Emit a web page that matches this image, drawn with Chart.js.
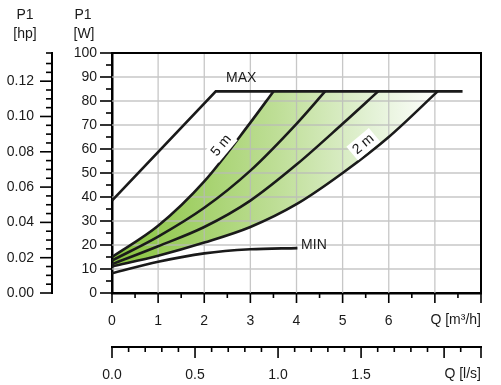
<!DOCTYPE html>
<html>
<head>
<meta charset="utf-8">
<script src="https://cdn.jsdelivr.net/npm/chart.js@4.4.1/dist/chart.umd.min.js"></script>
<style>
  html, body { margin: 0; padding: 0; background: #fff; }
</style>
</head>
<body>
<canvas id="chart" width="501" height="385"></canvas>
<script>
// pump curves: Q in m3/h, P1 in W
const q5m = [0, 1, 2, 3, 3.5];
const p5m = [15, 28, 46.5, 71, 84];
const q4m = [0, 1, 2, 3, 4, 4.62];
const p4m = [13.5, 23.5, 35.5, 51, 70.5, 84];
const q3m = [0, 1, 2, 3, 4, 5, 5.77];
const p3m = [12, 19.5, 27.5, 38.5, 53.5, 70.5, 84];
const q2m = [0, 1, 2, 3, 4, 5, 6, 7.06];
const p2m = [11, 15.5, 21, 27.5, 37, 50, 65, 84];
const qMin = [0, 1, 2, 3, 4.02];
const pMin = [8.2, 13, 16.5, 18.2, 18.7];
const qMax = [0, 2.25, 7.6];
const pMax = [38.5, 84, 84];

// axis ranges
const Q_MAX = 8;          // m3/h
const P_MAX = 100;        // W
const W_PER_HP = 735.5;
const M3H_PER_LS = 3.6;

const ink = '#1a1a1a';
const gridGray = 'rgba(185,185,185,0.8)';
const font = { family: '"Liberation Sans", Arial, sans-serif', size: 14 };

Chart.defaults.font = font;
Chart.defaults.color = ink;

// text labels on the plot (data coordinates)
const notes = [
  { text: 'MAX', q: 2.8, p: 89.4, angle: 0, box: false, align: 'center' },
  { text: 'MIN', q: 4.1, p: 20, angle: 0, box: false, align: 'left' },
  { text: '5 m', q: 2.37, p: 61.4, angle: -50, box: true, align: 'center' },
  { text: '2 m', q: 5.45, p: 62, angle: -40, box: true, align: 'center' },
];

function isStep(v, step) {
  const r = v / step;
  return Math.abs(r - Math.round(r)) < 1e-6;
}

function pts(qs, ps) {
  return qs.map((q, i) => ({ x: q, y: ps[i] }));
}

function curve(label, qs, ps, extra) {
  return Object.assign({
    label: label,
    data: pts(qs, ps),
    borderColor: ink,
    borderWidth: 2.6,
    pointRadius: 0,
    fill: false,
    cubicInterpolationMode: 'monotone',
    xAxisID: 'x',
    yAxisID: 'y',
  }, extra);
}

// green band fading to white towards high flow
function greenFill(context) {
  const chart = context.chart;
  if (!chart.chartArea) return 'rgb(170,210,120)';
  const sx = chart.scales.x;
  const g = chart.ctx.createLinearGradient(sx.getPixelForValue(0), 0, sx.getPixelForValue(7.1), 0);
  g.addColorStop(0, 'rgb(135,195,60)');
  g.addColorStop(0.5, 'rgb(190,222,150)');
  g.addColorStop(0.8, 'rgb(228,242,215)');
  g.addColorStop(1, 'rgb(255,255,255)');
  return g;
}

function tickMarks(ctx, scale, isMajor, majorLen, minorLen) {
  scale.ticks.forEach(t => {
    const p = scale.getPixelForValue(t.value);
    const len = isMajor(t.value) ? majorLen : minorLen;
    ctx.beginPath();
    if (scale.isHorizontal()) {
      ctx.moveTo(p, scale.top);
      ctx.lineTo(p, scale.top + len);
    } else {
      ctx.moveTo(scale.right, p);
      ctx.lineTo(scale.right - len, p);
    }
    ctx.stroke();
  });
}

const decor = {
  id: 'decor',
  // grid over the filled band, under the curves
  beforeDatasetsDraw(chart) {
    const { ctx, chartArea: a } = chart;
    const { x, y } = chart.scales;
    ctx.save();
    ctx.strokeStyle = gridGray;
    ctx.lineWidth = 1.3;
    ctx.beginPath();
    x.ticks.forEach(t => {
      if (!isStep(t.value, 1) || t.value <= 0 || t.value >= Q_MAX) return;
      const p = x.getPixelForValue(t.value);
      ctx.moveTo(p, a.top);
      ctx.lineTo(p, a.bottom);
    });
    y.ticks.forEach(t => {
      if (!isStep(t.value, 10) || t.value <= 0 || t.value >= P_MAX) return;
      const p = y.getPixelForValue(t.value);
      ctx.moveTo(a.left, p);
      ctx.lineTo(a.right, p);
    });
    ctx.stroke();
    ctx.restore();
  },
  afterDraw(chart) {
    const { ctx, chartArea: a } = chart;
    const { x, xls, y, yhp } = chart.scales;
    ctx.save();

    // top and right frame
    ctx.strokeStyle = '#000';
    ctx.lineWidth = 2;
    ctx.beginPath();
    ctx.moveTo(a.left, a.top);
    ctx.lineTo(a.right, a.top);
    ctx.lineTo(a.right, a.bottom);
    ctx.stroke();

    // tick marks, long on major values
    ctx.lineWidth = 1.6;
    tickMarks(ctx, y, v => isStep(v, 10), 12, 6);
    tickMarks(ctx, yhp, v => isStep(v, 0.02), 12, 6);
    tickMarks(ctx, x, v => isStep(v, 1), 10, 5);
    tickMarks(ctx, xls, v => isStep(v, 0.5) || v === xls.max, 11, 5);

    // axis titles
    ctx.fillStyle = ink;
    ctx.font = '14px ' + font.family;
    ctx.textAlign = 'center';
    ctx.textBaseline = 'middle';
    ctx.fillText('P1', 25, 15);
    ctx.fillText('[hp]', 25, 34);
    ctx.fillText('P1', 83, 15);
    ctx.fillText('[W]', 84, 34);
    ctx.textAlign = 'right';
    ctx.fillText('Q [m³/h]', a.right, x.top + 27);
    ctx.fillText('Q [l/s]', a.right, xls.top + 27);

    // curve labels
    notes.forEach(n => {
      const px = x.getPixelForValue(n.q);
      const py = y.getPixelForValue(n.p);
      ctx.save();
      ctx.translate(px, py);
      ctx.rotate(n.angle * Math.PI / 180);
      ctx.textAlign = n.align;
      ctx.textBaseline = 'middle';
      if (n.box) {
        const w = ctx.measureText(n.text).width + 6;
        ctx.fillStyle = '#fff';
        ctx.fillRect(-w / 2, -9, w, 18);
      }
      ctx.fillStyle = ink;
      ctx.fillText(n.text, 0, 0);
      ctx.restore();
    });

    ctx.restore();
  }
};

new Chart(document.getElementById('chart'), {
  type: 'line',
  data: {
    datasets: [
      curve('MAX', qMax, pMax, { cubicInterpolationMode: 'default', tension: 0 }),
      curve('MIN', qMin, pMin),
      curve('5 m', q5m, p5m, { fill: { value: P_MAX }, backgroundColor: '#fff' }),
      curve('4 m', q4m, p4m),
      curve('3 m', q3m, p3m),
      curve('2 m', q2m, p2m, { fill: { value: pMax[1] }, backgroundColor: greenFill }),
    ],
  },
  options: {
    responsive: false,
    animation: false,
    layout: { padding: { top: 53, right: 1, left: 0, bottom: 0 } },
    plugins: {
      legend: { display: false },
      tooltip: { enabled: false },
      filler: { drawTime: 'beforeDraw' },
    },
    scales: {
      x: {
        type: 'linear', position: 'bottom', weight: 0,
        min: 0, max: Q_MAX,
        afterFit: s => { s.height = 54; },
        ticks: {
          stepSize: 0.5, padding: 20, autoSkip: false, maxRotation: 0,
          callback: v => (isStep(v, 1) && v <= 6 ? String(v) : ''),
        },
        grid: { display: false, drawTicks: false },
        border: { color: '#000', width: 2.5 },
      },
      xls: {
        type: 'linear', position: 'bottom', weight: 1,
        min: 0, max: Q_MAX / M3H_PER_LS,
        afterFit: s => { s.height = 38; },
        ticks: {
          stepSize: 0.1, padding: 20, autoSkip: false, maxRotation: 0,
          callback: v => (isStep(v, 0.5) && v < 1.9 ? v.toFixed(1) : ''),
        },
        grid: { display: false, drawTicks: false },
        border: { color: '#000', width: 2 },
      },
      y: {
        type: 'linear', position: 'left', weight: 0,
        min: 0, max: P_MAX,
        afterFit: s => { s.width = 60; },
        ticks: {
          stepSize: 5, padding: 15, autoSkip: false,
          callback: v => (isStep(v, 10) ? String(v) : ''),
        },
        grid: { display: false, drawTicks: false },
        border: { color: '#000', width: 2.5 },
      },
      yhp: {
        type: 'linear', position: 'left', weight: 1,
        min: 0, max: P_MAX / W_PER_HP,
        afterFit: s => { s.width = 52; },
        ticks: {
          stepSize: 0.005, padding: 18, autoSkip: false,
          callback: v => (isStep(v, 0.02) ? v.toFixed(2) : ''),
        },
        grid: { display: false, drawTicks: false },
        border: { color: '#000', width: 2 },
      },
    },
  },
  plugins: [decor],
});
</script>
</body>
</html>
